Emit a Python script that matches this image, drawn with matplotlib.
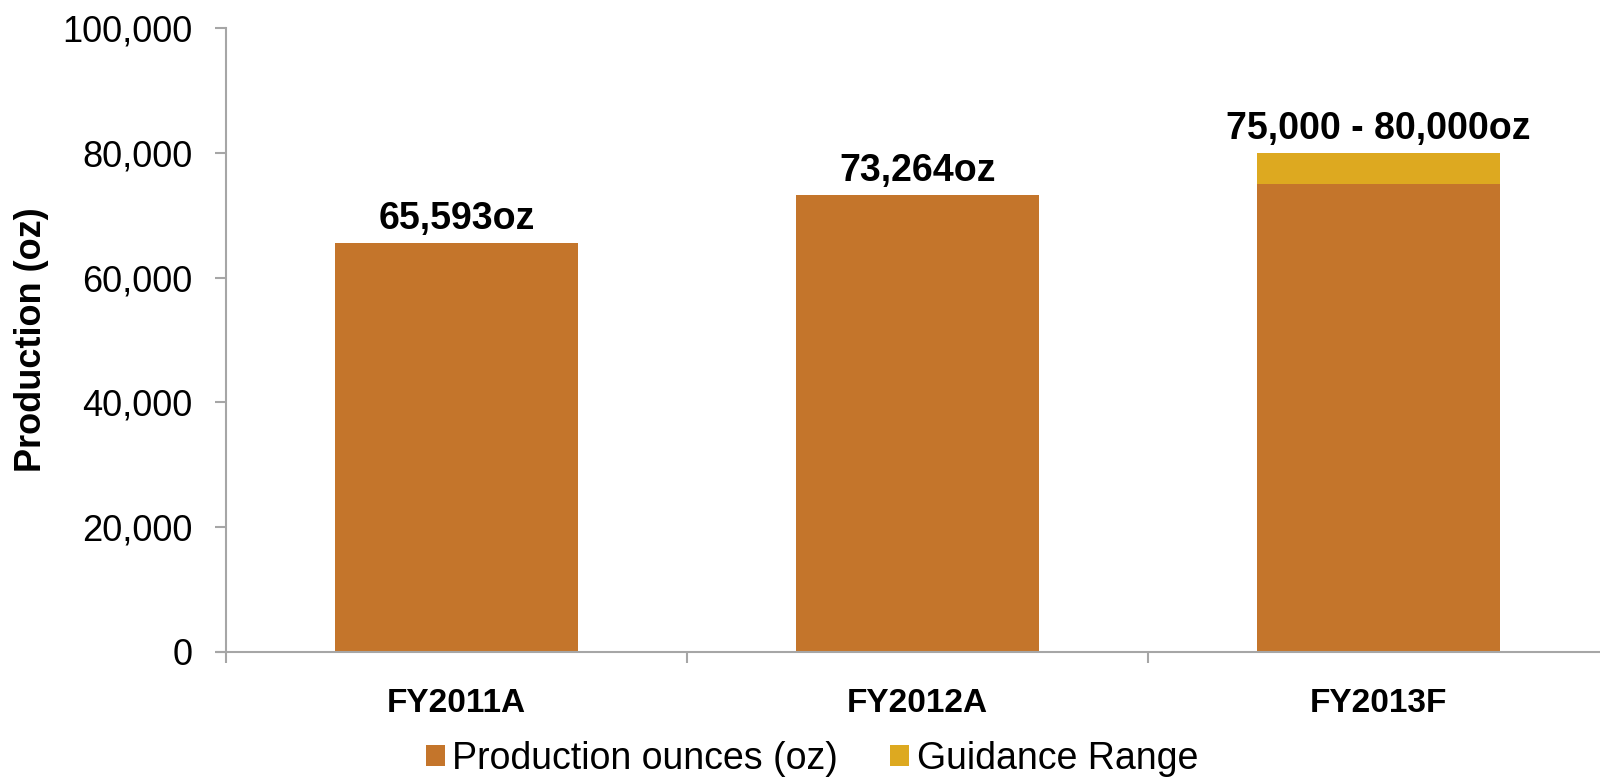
import numpy as np
import matplotlib
matplotlib.use("Agg")
import matplotlib.pyplot as plt
from matplotlib.ticker import FuncFormatter

plt.rcParams['font.family'] = ['Liberation Sans', 'DejaVu Sans']

categories = ['FY2011A', 'FY2012A', 'FY2013F']
production = [65593, 73264, 75000]
guidance = [0, 0, 5000]
bar_labels = ['65,593oz', '73,264oz', '75,000 - 80,000oz']

c_prod = '#C4752B'
c_guid = '#DDA920'
grey = '#A6A6A6'

fig = plt.figure(figsize=(16, 7.79), dpi=100)
ax = fig.add_axes([0.1413, 0.1634, 0.864, 0.8006])

x = np.arange(len(categories))
w = 0.527
ax.bar(x, production, w, color=c_prod, label='Production ounces (oz)')
ax.bar(x, guidance, w, bottom=production, color=c_guid, label='Guidance Range')

tops = np.array(production) + np.array(guidance)
for xi, top, lab in zip(x, tops, bar_labels):
    ax.annotate(lab, (xi, top), xytext=(0, 4), textcoords='offset points',
                ha='center', va='bottom', fontsize=27, fontweight='bold')

ax.set_xlim(-0.5, 2.5)
ax.set_ylim(0, 100000)
ax.set_yticks(np.arange(0, 100001, 20000))
ax.yaxis.set_major_formatter(FuncFormatter(lambda v, p: f'{int(v):,}'))
ax.set_xticks(x)
ax.set_xticklabels(categories, fontsize=24, fontweight='bold')
ax.set_xticks([-0.5, 0.5, 1.5], minor=True)
ax.tick_params(axis='x', which='major', length=0, pad=26)
ax.tick_params(axis='x', which='minor', length=8, color=grey, width=1.5)
ax.tick_params(axis='y', labelsize=26, length=8, color=grey, width=1.5, pad=16)
ax.set_ylabel('Production (oz)', fontsize=26, fontweight='bold', labelpad=10)

for s in ['top', 'right']:
    ax.spines[s].set_visible(False)
for s in ['left', 'bottom']:
    ax.spines[s].set_color(grey)
    ax.spines[s].set_linewidth(1.5)
ax.spines['bottom'].set_bounds(-0.52, 2.5)

fig.legend(loc='center', bbox_to_anchor=(0.5075, 0.026), ncol=2, frameon=False,
           fontsize=27, handlelength=0.5, handleheight=0.5, handletextpad=0.2,
           columnspacing=1.4, borderpad=0.1)

fig.savefig('out.png', dpi=100)
